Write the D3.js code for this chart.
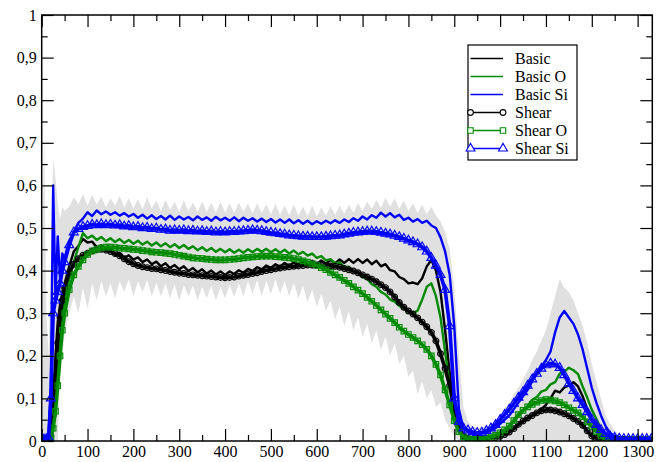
<!DOCTYPE html>
<html>
<head>
<meta charset="utf-8">
<script src="https://cdn.jsdelivr.net/npm/d3@7"></script>
<style>
  html, body { margin: 0; padding: 0; background: #fff; }
  svg { display: block; }
</style>
</head>
<body>
<svg id="chart" width="667" height="462"></svg>
<script>
// Sampling positions (finer at the start where the signal rises)
const X = [0,5,10,15,20,25,30,35,40,45,50,
  60,70,80,90,100,110,120,130,140,150,
  160,170,180,190,200,210,220,230,240,250,
  260,270,280,290,300,310,320,330,340,350,
  360,370,380,390,400,410,420,430,440,450,
  460,470,480,490,500,510,520,530,540,550,
  560,570,580,590,600,610,620,630,640,650,
  660,670,680,690,700,710,720,730,740,750,
  760,770,780,790,800,810,820,830,840,850,
  860,870,880,890,900,910,920,930,940,950,
  960,970,980,990,1000,1010,1020,1030,1040,1050,
  1060,1070,1080,1090,1100,1110,1120,1130,1140,1150,
  1160,1170,1180,1190,1200,1210,1220,1230,1240,1250,
  1260,1270,1280,1290,1300,1310,1320,1330];

const basic = [0.005,0.006,0.006,0.008,0.02,0.1,0.2,0.28,0.32,0.35,0.37,
  0.41,0.445,0.458,0.474,0.466,0.468,0.455,0.459,0.446,0.449,
  0.437,0.442,0.43,0.436,0.426,0.431,0.42,0.426,0.415,0.421,
  0.41,0.417,0.406,0.413,0.403,0.41,0.399,0.406,0.396,0.403,
  0.393,0.4,0.391,0.398,0.39,0.398,0.392,0.401,0.395,0.404,
  0.399,0.408,0.403,0.412,0.406,0.415,0.409,0.418,0.411,0.42,
  0.413,0.422,0.414,0.423,0.415,0.424,0.416,0.425,0.417,0.426,
  0.418,0.427,0.418,0.427,0.418,0.426,0.415,0.423,0.41,0.415,
  0.401,0.398,0.385,0.38,0.37,0.372,0.368,0.382,0.41,0.425,
  0.4,0.35,0.26,0.16,0.08,0.035,0.015,0.008,0.005,0.004,
  0.004,0.005,0.006,0.008,0.01,0.016,0.022,0.03,0.038,0.045,
  0.053,0.06,0.068,0.075,0.085,0.1,0.118,0.114,0.126,0.13,
  0.138,0.128,0.105,0.075,0.05,0.03,0.015,0.007,0.005,0.004,
  0.004,0.003,0.004,0.003,0.004,0.003,0.004,0.003];

const basicO = [0.004,0.004,0.005,0.005,0.01,0.05,0.12,0.2,0.26,0.3,0.33,
  0.38,0.42,0.455,0.488,0.476,0.482,0.472,0.479,0.469,0.476,
  0.467,0.474,0.465,0.472,0.463,0.47,0.461,0.468,0.459,0.466,
  0.457,0.464,0.455,0.462,0.453,0.46,0.451,0.457,0.448,0.455,
  0.446,0.453,0.444,0.451,0.443,0.45,0.442,0.449,0.442,0.45,
  0.443,0.451,0.444,0.451,0.443,0.45,0.442,0.449,0.44,0.447,
  0.438,0.444,0.435,0.44,0.43,0.434,0.424,0.427,0.417,0.419,
  0.408,0.409,0.397,0.396,0.384,0.381,0.368,0.362,0.35,0.344,
  0.332,0.327,0.317,0.311,0.302,0.3,0.306,0.332,0.362,0.37,
  0.34,0.29,0.21,0.13,0.06,0.025,0.01,0.005,0.004,0.004,
  0.005,0.006,0.008,0.012,0.018,0.025,0.035,0.045,0.058,0.07,
  0.082,0.097,0.103,0.116,0.12,0.133,0.138,0.158,0.162,0.172,
  0.166,0.157,0.128,0.102,0.073,0.052,0.028,0.015,0.008,0.005,
  0.004,0.004,0.004,0.004,0.004,0.004,0.004,0.004];

const basicSi = [0.004,0.006,0.005,0.01,0.13,0.6,0.34,0.48,0.38,0.44,0.43,
  0.47,0.49,0.512,0.522,0.537,0.528,0.541,0.532,0.539,0.531,
  0.537,0.529,0.535,0.527,0.533,0.524,0.531,0.522,0.53,0.521,
  0.528,0.52,0.529,0.519,0.527,0.52,0.526,0.518,0.527,0.519,
  0.525,0.517,0.526,0.518,0.524,0.517,0.525,0.516,0.524,0.517,
  0.523,0.515,0.522,0.514,0.521,0.513,0.52,0.512,0.52,0.511,
  0.518,0.51,0.517,0.509,0.516,0.51,0.517,0.511,0.518,0.512,
  0.52,0.514,0.523,0.517,0.527,0.52,0.53,0.524,0.536,0.527,
  0.535,0.525,0.531,0.519,0.524,0.515,0.521,0.512,0.517,0.506,
  0.5,0.478,0.445,0.39,0.27,0.075,0.03,0.022,0.018,0.015,
  0.018,0.02,0.025,0.03,0.04,0.05,0.06,0.075,0.09,0.105,
  0.12,0.14,0.16,0.175,0.19,0.21,0.255,0.29,0.305,0.29,
  0.275,0.25,0.215,0.17,0.125,0.09,0.06,0.035,0.019,0.012,
  0.009,0.008,0.008,0.007,0.007,0.006,0.007,0.006];

const shear = [0.004,0.005,0.005,0.006,0.012,0.06,0.15,0.23,0.29,0.33,0.36,
  0.395,0.415,0.428,0.436,0.441,0.446,0.449,0.45,0.448,0.445,
  0.44,0.435,0.428,0.421,0.416,0.412,0.409,0.407,0.405,0.404,
  0.402,0.4,0.398,0.396,0.394,0.393,0.391,0.39,0.389,0.388,
  0.387,0.386,0.385,0.384,0.383,0.384,0.385,0.387,0.389,0.391,
  0.393,0.395,0.398,0.4,0.402,0.404,0.406,0.408,0.409,0.41,
  0.411,0.412,0.413,0.413,0.413,0.413,0.412,0.411,0.41,0.408,
  0.405,0.402,0.399,0.395,0.39,0.385,0.38,0.374,0.367,0.36,
  0.35,0.338,0.325,0.314,0.305,0.298,0.289,0.279,0.268,0.255,
  0.235,0.205,0.17,0.13,0.075,0.035,0.012,0.006,0.004,0.004,
  0.004,0.005,0.006,0.008,0.011,0.015,0.021,0.029,0.039,0.047,
  0.054,0.06,0.066,0.071,0.073,0.073,0.071,0.068,0.064,0.059,
  0.053,0.046,0.037,0.024,0.012,0.006,0.004,0.003,0.003,0.003,
  0.003,0.003,0.003,0.003,0.003,0.003,0.003,0.003];

const shearO = [0.003,0.003,0.004,0.004,0.006,0.03,0.07,0.13,0.2,0.26,0.3,
  0.355,0.39,0.41,0.425,0.438,0.446,0.45,0.453,0.455,0.455,
  0.454,0.453,0.452,0.451,0.45,0.449,0.447,0.446,0.444,0.443,
  0.442,0.441,0.44,0.438,0.436,0.434,0.432,0.43,0.429,0.428,
  0.427,0.426,0.425,0.425,0.425,0.426,0.427,0.428,0.43,0.431,
  0.432,0.433,0.434,0.434,0.434,0.433,0.432,0.431,0.43,0.428,
  0.426,0.423,0.42,0.416,0.412,0.407,0.402,0.396,0.39,0.384,
  0.377,0.37,0.362,0.354,0.346,0.337,0.328,0.318,0.308,0.298,
  0.288,0.278,0.267,0.258,0.25,0.243,0.235,0.226,0.215,0.2,
  0.18,0.155,0.12,0.085,0.048,0.022,0.01,0.005,0.004,0.004,
  0.005,0.007,0.01,0.014,0.019,0.026,0.035,0.048,0.062,0.072,
  0.08,0.086,0.091,0.095,0.097,0.096,0.094,0.09,0.085,0.078,
  0.072,0.066,0.057,0.045,0.034,0.022,0.012,0.005,0.003,0.003,
  0.003,0.003,0.003,0.003,0.003,0.003,0.003,0.003];

const shearSi = [0.003,0.004,0.005,0.008,0.1,0.3,0.33,0.35,0.37,0.4,0.42,
  0.46,0.49,0.498,0.503,0.505,0.508,0.507,0.509,0.507,0.508,
  0.506,0.507,0.504,0.505,0.502,0.503,0.5,0.501,0.498,0.499,
  0.496,0.497,0.494,0.495,0.494,0.495,0.493,0.494,0.492,0.493,
  0.491,0.492,0.49,0.491,0.49,0.491,0.491,0.492,0.493,0.494,
  0.495,0.494,0.493,0.491,0.489,0.488,0.486,0.485,0.483,0.482,
  0.481,0.48,0.48,0.479,0.479,0.479,0.48,0.481,0.482,0.483,
  0.485,0.487,0.489,0.49,0.491,0.492,0.492,0.491,0.489,0.487,
  0.485,0.482,0.479,0.475,0.471,0.467,0.462,0.455,0.445,0.43,
  0.412,0.39,0.355,0.27,0.1,0.045,0.03,0.025,0.021,0.019,
  0.02,0.024,0.03,0.038,0.05,0.062,0.074,0.088,0.102,0.115,
  0.13,0.145,0.158,0.17,0.178,0.182,0.18,0.172,0.155,0.135,
  0.118,0.1,0.085,0.068,0.05,0.038,0.026,0.017,0.011,0.008,
  0.006,0.005,0.005,0.005,0.005,0.005,0.005,0.005];

// Spread of the individual runs (light grey band behind the curves)
const spreadHigh = [0.02,0.75,0.3,0.2,0.42,0.66,0.62,0.56,0.52,0.55,0.54,
  0.55,0.572,0.556,0.58,0.552,0.578,0.555,0.574,0.548,0.57,
  0.552,0.575,0.548,0.57,0.545,0.568,0.544,0.572,0.546,0.565,
  0.54,0.566,0.543,0.562,0.538,0.565,0.54,0.56,0.537,0.562,
  0.538,0.559,0.536,0.561,0.537,0.558,0.535,0.56,0.538,0.557,
  0.534,0.558,0.535,0.556,0.532,0.557,0.531,0.553,0.53,0.555,
  0.529,0.551,0.528,0.552,0.527,0.549,0.529,0.551,0.531,0.553,
  0.533,0.555,0.536,0.558,0.54,0.562,0.544,0.566,0.547,0.571,
  0.55,0.569,0.545,0.565,0.54,0.558,0.535,0.554,0.532,0.55,
  0.53,0.515,0.49,0.45,0.36,0.2,0.08,0.045,0.035,0.03,
  0.032,0.035,0.04,0.048,0.06,0.075,0.09,0.11,0.125,0.145,
  0.165,0.19,0.21,0.235,0.26,0.3,0.34,0.38,0.36,0.35,
  0.33,0.3,0.27,0.23,0.18,0.14,0.1,0.06,0.04,0.025,
  0.015,0.012,0.01,0.01,0.01,0.01,0.01,0.01];

const spreadLow = [0,0,0,0,0,0,0,0,0.15,0.2,0.25,
  0.3,0.34,0.3,0.36,0.31,0.37,0.33,0.375,0.34,0.37,
  0.335,0.375,0.35,0.38,0.34,0.375,0.35,0.378,0.34,0.372,
  0.34,0.37,0.335,0.368,0.33,0.366,0.34,0.365,0.33,0.362,
  0.335,0.365,0.33,0.362,0.335,0.366,0.338,0.37,0.34,0.375,
  0.345,0.378,0.34,0.377,0.345,0.38,0.345,0.376,0.34,0.372,
  0.335,0.365,0.325,0.355,0.315,0.345,0.305,0.33,0.285,0.315,
  0.27,0.305,0.26,0.29,0.245,0.275,0.23,0.26,0.215,0.245,
  0.2,0.23,0.18,0.2,0.15,0.165,0.11,0.14,0.1,0.12,
  0.08,0.09,0.05,0.03,0.01,0,0,0,0,0,
  0,0,0,0,0,0,0,0,0,0,
  0,0,0,0,0,0,0,0,0,0,
  0,0,0,0,0,0,0,0,0,0,
  0,0,0,0,0,0,0,0];

const xTicksMajor = [0,100,200,300,400,500,600,700,800,900,1000,1100,1200,1300];
const xTicksMinor = [50,150,250,350,450,550,650,750,850,950,1050,1150,1250];
const yTicksMajor = [0,0.1,0.2,0.3,0.4,0.5,0.6,0.7,0.8,0.9,1];
const yTicksMinor = [0.05,0.15,0.25,0.35,0.45,0.55,0.65,0.75,0.85,0.95];

const GREEN = "#008b00", BLUE = "#0000ff", BLACK = "#000000";
const FONT = '"Liberation Serif"';

const series = [
  { name: "Basic",    values: basic,   color: BLACK, symbol: null },
  { name: "Basic O",  values: basicO,  color: GREEN, symbol: null },
  { name: "Basic Si", values: basicSi, color: BLUE,  symbol: null },
  { name: "Shear",    values: shear,   color: BLACK, symbol: d3.symbolCircle,   size: 26 },
  { name: "Shear O",  values: shearO,  color: GREEN, symbol: d3.symbolSquare,   size: 30 },
  { name: "Shear Si", values: shearSi, color: BLUE,  symbol: d3.symbolTriangle, size: 34 }
];

const svg = d3.select("#chart");
const L = 41.7, R = 652.3, T = 15, B = 441;
const x = d3.scaleLinear().domain([0, 1332]).range([L, R]);
const y = d3.scaleLinear().domain([0, 1]).range([B, T]);

svg.append("defs").append("clipPath").attr("id", "plotclip")
  .append("rect").attr("x", L).attr("y", T).attr("width", R - L).attr("height", B - T);

const plot = svg.append("g").attr("clip-path", "url(#plotclip)");

// grey spread band
const band = d3.area()
  .x((d, i) => x(X[i]))
  .y0((d, i) => y(spreadLow[i]))
  .y1(d => y(d));
plot.append("path").datum(spreadHigh)
  .attr("d", band)
  .attr("fill", "#e0e0e0");

const line = d3.line().x((d, i) => x(X[i])).y(d => y(d));

series.forEach(s => {
  plot.append("path").datum(s.values)
    .attr("d", line)
    .attr("fill", "none")
    .attr("stroke", s.color)
    .attr("stroke-width", s.symbol ? 3.6 : 2.4)
    .attr("stroke-linejoin", "round");
  if (s.symbol) {
    const sym = d3.symbol().type(s.symbol).size(s.size);
    plot.append("g").selectAll("path").data(s.values).join("path")
      .attr("d", sym)
      .attr("transform", (d, i) => `translate(${x(X[i])},${y(d)})`)
      .attr("fill", "none")
      .attr("stroke", s.color)
      .attr("stroke-width", 1.2);
  }
});

// axes with inward ticks
const comma = d3.formatLocale({ decimal: ",", thousands: ".", grouping: [3], currency: ["", ""] });
const fmtY = comma.format("~g");

function styleAxis(g) {
  g.select(".domain").remove();
  g.selectAll(".tick line").attr("stroke", "#000").attr("stroke-width", 1.2);
  g.selectAll("text").style("font-family", FONT).style("font-size", "16px").attr("fill", "#000");
}

svg.append("g").attr("transform", `translate(0,${B})`)
  .call(d3.axisBottom(x).tickValues(xTicksMajor).tickSize(-12).tickPadding(5).tickFormat(d3.format("d")))
  .call(styleAxis);
svg.append("g").attr("transform", `translate(0,${B})`)
  .call(d3.axisBottom(x).tickValues(xTicksMinor).tickSize(-6).tickFormat(""))
  .call(styleAxis);
svg.append("g").attr("transform", `translate(0,${T})`)
  .call(d3.axisTop(x).tickValues(xTicksMajor).tickSize(-12).tickFormat(""))
  .call(styleAxis);
svg.append("g").attr("transform", `translate(0,${T})`)
  .call(d3.axisTop(x).tickValues(xTicksMinor).tickSize(-6).tickFormat(""))
  .call(styleAxis);

svg.append("g").attr("transform", `translate(${L},0)`)
  .call(d3.axisLeft(y).tickValues(yTicksMajor).tickSize(-12).tickPadding(5).tickFormat(fmtY))
  .call(styleAxis);
svg.append("g").attr("transform", `translate(${L},0)`)
  .call(d3.axisLeft(y).tickValues(yTicksMinor).tickSize(-6).tickFormat(""))
  .call(styleAxis);
svg.append("g").attr("transform", `translate(${R},0)`)
  .call(d3.axisRight(y).tickValues(yTicksMajor).tickSize(-12).tickFormat(""))
  .call(styleAxis);
svg.append("g").attr("transform", `translate(${R},0)`)
  .call(d3.axisRight(y).tickValues(yTicksMinor).tickSize(-6).tickFormat(""))
  .call(styleAxis);

// frame
svg.append("rect").attr("x", L).attr("y", T).attr("width", R - L).attr("height", B - T)
  .attr("fill", "none").attr("stroke", "#000").attr("stroke-width", 1.5);

// legend
const lg = svg.append("g").attr("transform", "translate(468,45)");
lg.append("rect").attr("x", 0).attr("y", 0).attr("width", 109).attr("height", 115)
  .attr("fill", "#fff").attr("stroke", "#000").attr("stroke-width", 1.2);
series.forEach((s, i) => {
  const cy = 13.5 + i * 18;
  const row = lg.append("g").attr("transform", `translate(0,${cy})`);
  row.append("line").attr("x1", 2.5).attr("x2", 35).attr("y1", 0).attr("y2", 0)
    .attr("stroke", s.color).attr("stroke-width", 1.6);
  if (s.symbol) {
    const sym = d3.symbol().type(s.symbol).size(s.size);
    [2.5, 35].forEach(px => {
      row.append("path").attr("d", sym).attr("transform", `translate(${px},0)`)
        .attr("fill", "#fff").attr("stroke", s.color).attr("stroke-width", 1.1);
    });
  }
  row.append("text").attr("x", 47).attr("y", 5.5)
    .style("font-family", FONT).style("font-size", "16px").attr("fill", "#000").text(s.name);
});
</script>
</body>
</html>
